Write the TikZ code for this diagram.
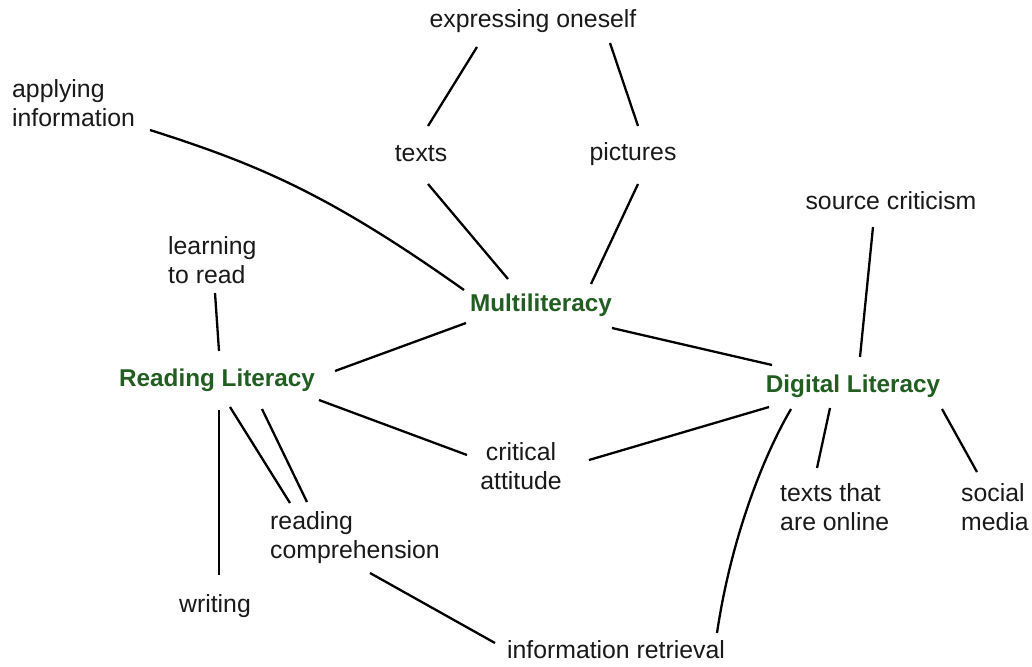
\documentclass[tikz,border=0pt]{standalone}
\usepackage{fontspec}
\setmainfont{Liberation Sans}
\definecolor{hub}{RGB}{34,94,34}
\definecolor{ink}{RGB}{25,25,25}
\begin{document}
\begin{tikzpicture}[x=1pt,y=-1pt,
  lbl/.style={inner sep=0pt,text=ink,font=\fontsize{24.8}{29}\selectfont},
  hubnode/.style={inner sep=0pt,text=hub,font=\fontsize{24.3}{28}\selectfont\bfseries},
  link/.style={line width=2.3pt,draw=black}]
\useasboundingbox (0,0) rectangle (1032,666);
\fill[white] (0,0) rectangle (1032,666);
% nodes
\node[lbl] (exp) at (533,21) {expressing oneself};
\node[lbl,anchor=west,align=left] (app) at (12,103) {applying\\information};
\node[lbl] (texts) at (421,154) {texts};
\node[lbl] (pics) at (633,154) {pictures};
\node[lbl] (src) at (891,201) {source criticism};
\node[lbl,anchor=west,align=left] (learn) at (168,260) {learning\\to read};
\node[hubnode] (multi) at (541,305) {Multiliteracy};
\node[hubnode] (read) at (217,380) {Reading Literacy};
\node[hubnode] (dig) at (853,386) {Digital Literacy};
\node[lbl,align=center] (crit) at (521,466) {critical\\attitude};
\node[lbl,anchor=west,align=left] (online) at (780,507) {texts that\\are online};
\node[lbl,anchor=west,align=left] (social) at (961,507) {social\\media};
\node[lbl,anchor=west,align=left] (comp) at (270,538) {reading\\comprehension};
\node[lbl] (writing) at (215,606) {writing};
\node[lbl] (info) at (616,650) {information retrieval};
% connectors
\draw[link] ([shift={(-56,26)}]exp.center) -- ([shift={(7,-28)}]texts.center);
\draw[link] ([shift={(77,22)}]exp.center) -- ([shift={(5,-28)}]pics.center);
\draw[link] ([shift={(7,30)}]texts.center) -- ([shift={(-33,-26)}]multi.center);
\draw[link] ([shift={(5,30)}]pics.center) -- ([shift={(50,-21)}]multi.center);
\draw[link] ([shift={(138,27)}]app.west) .. controls (260,165) and (330,195) .. ([shift={(-77,-15)}]multi.center);
\draw[link] ([shift={(47,33)}]learn.west) -- ([shift={(2,-29)}]read.center);
\draw[link] ([shift={(-75,18)}]multi.center) -- ([shift={(118,-9)}]read.center);
\draw[link] ([shift={(71,23)}]multi.center) -- ([shift={(-81,-21)}]dig.center);
\draw[link] ([shift={(-18,26)}]src.center) -- ([shift={(7,-29)}]dig.center);
\draw[link] ([shift={(102,20)}]read.center) -- ([shift={(-54,-11)}]crit.center);
\draw[link] ([shift={(68,-6)}]crit.center) -- ([shift={(-84,21)}]dig.center);
\draw[link] ([shift={(2,30)}]read.center) -- ([shift={(4,-31)}]writing.center);
\draw[link] ([shift={(13,27)}]read.center) -- ([shift={(20,-35)}]comp.west);
\draw[link] ([shift={(45,29)}]read.center) -- ([shift={(37,-36)}]comp.west);
\draw[link] ([shift={(100,35)}]comp.west) -- ([shift={(-121,-7)}]info.center);
\draw[link] ([shift={(-62,23)}]dig.center) .. controls (760,462) and (730,545) .. ([shift={(101,-17)}]info.center);
\draw[link] ([shift={(-23,22)}]dig.center) -- ([shift={(37,-39)}]online.west);
\draw[link] ([shift={(89,23)}]dig.center) -- ([shift={(16,-35)}]social.west);
\end{tikzpicture}
\end{document}
